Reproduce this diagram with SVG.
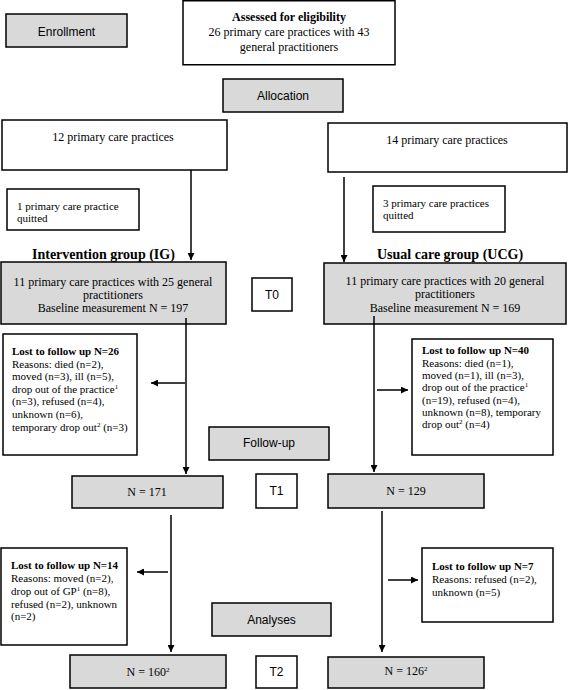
<svg xmlns="http://www.w3.org/2000/svg" width="568" height="690" viewBox="0 0 568 690">
<style>
rect{stroke:#000;stroke-width:1.5}
.w{fill:#fff}
.g{fill:#d9d9d9}
.s{font-family:"Liberation Sans",Arial,sans-serif;font-size:12px;fill:#000}
.t{font-family:"Liberation Serif","Times New Roman",serif;font-size:12px;fill:#000}
.ts{font-family:"Liberation Serif","Times New Roman",serif;font-size:11px;fill:#000}
.b{font-weight:bold}
.h{font-family:"Liberation Serif","Times New Roman",serif;font-size:14px;font-weight:bold;fill:#000}
.c{text-anchor:middle}
.sup{font-size:7px}
#connectors line{stroke:#000;stroke-width:1.5}
</style>
<defs>
<marker id="ah" viewBox="0 0 10 10" refX="10" refY="5" markerWidth="7" markerHeight="7" markerUnits="userSpaceOnUse" orient="auto"><path d="M0,0 L10,5 L0,10 z" fill="#000"/></marker>
</defs>
<rect width="568" height="690" fill="#fff" style="stroke:none"/>
<g id="enrollment"><rect class="g" x="6" y="14" width="121" height="33"/><text class="s c" x="66.5" y="36">Enrollment</text></g>
<g id="assessed"><rect class="w" x="183" y="0.75" width="212" height="64"/>
<text class="t c b" x="289" y="21">Assessed for eligibility</text>
<text class="t c" x="289" y="36">26 primary care practices with 43</text>
<text class="t c" x="289" y="51">general practitioners</text></g>
<g id="allocation"><rect class="g" x="223" y="79" width="120" height="33"/><text class="s c" x="283" y="100">Allocation</text></g>
<g id="ig-practices"><rect class="w" x="2" y="120" width="225" height="50"/><text class="t c" x="113" y="141">12 primary care practices</text></g>
<g id="ucg-practices"><rect class="w" x="328" y="123" width="239" height="49"/><text class="t c" x="447" y="144">14 primary care practices</text></g>
<g id="ig-quit"><rect class="w" x="7" y="189" width="132" height="41"/><text class="ts" x="17" y="210">1 primary care practice</text><text class="ts" x="17" y="222">quitted</text></g>
<g id="ucg-quit"><rect class="w" x="373" y="186" width="132" height="46"/><text class="ts" x="383" y="207">3 primary care practices</text><text class="ts" x="383" y="219">quitted</text></g>
<g id="ig-label"><text class="h" x="32" y="259">Intervention group (IG)</text></g>
<g id="ucg-label"><text class="h" x="377" y="259">Usual care group (UCG)</text></g>
<g id="ig-baseline"><rect class="g" x="1" y="262" width="225" height="62"/>
<text class="t c" x="113" y="286">11 primary care practices with 25 general</text>
<text class="t c" x="113" y="299">practitioners</text>
<text class="t c" x="113" y="312">Baseline measurement N = 197</text></g>
<g id="t0"><rect class="w" x="252" y="278" width="40" height="33"/><text class="s c" x="272" y="299">T0</text></g>
<g id="ucg-baseline"><rect class="g" x="324" y="263" width="242" height="61"/>
<text class="t c" x="445" y="285">11 primary care practices with 20 general</text>
<text class="t c" x="445" y="298">practitioners</text>
<text class="t c" x="445" y="312">Baseline measurement N = 169</text></g>
<g id="ig-lost1"><rect class="w" x="3" y="334" width="134" height="121"/>
<text class="ts b" x="12" y="355">Lost to follow up N=26</text>
<text class="ts" x="12" y="367.5">Reasons: died (n=2),</text>
<text class="ts" x="12" y="380">moved (n=3), ill (n=5),</text>
<text class="ts" x="12" y="392.5">drop out of the practice<tspan class="sup" dy="-4">1</tspan></text>
<text class="ts" x="12" y="405">(n=3), refused (n=4),</text>
<text class="ts" x="12" y="418">unknown (n=6),</text>
<text class="ts" x="12" y="430.5">temporary drop out<tspan class="sup" dy="-4">2</tspan><tspan dy="4"> (n=3)</tspan></text></g>
<g id="ucg-lost1"><rect class="w" x="412" y="339" width="141" height="116"/>
<text class="ts b" x="422" y="354">Lost to follow up N=40</text>
<text class="ts" x="422" y="366.5">Reasons: died (n=1),</text>
<text class="ts" x="422" y="379">moved (n=1), ill (n=3),</text>
<text class="ts" x="422" y="391">drop out of the practice<tspan class="sup" dy="-4">1</tspan></text>
<text class="ts" x="422" y="403.5">(n=19), refused (n=4),</text>
<text class="ts" x="422" y="416">unknown (n=8), temporary</text>
<text class="ts" x="422" y="428">drop out<tspan class="sup" dy="-4">2</tspan><tspan dy="4"> (n=4)</tspan></text></g>
<g id="followup"><rect class="g" x="209" y="427" width="120" height="33"/><text class="s c" x="269" y="447">Follow-up</text></g>
<g id="ig-t1"><rect class="g" x="72" y="476" width="151" height="32"/><text class="t c" x="147" y="496">N = 171</text></g>
<g id="t1"><rect class="w" x="256" y="474" width="41" height="34"/><text class="s c" x="276.5" y="495">T1</text></g>
<g id="ucg-t1"><rect class="g" x="328" y="474" width="156" height="34"/><text class="t c" x="406" y="495">N = 129</text></g>
<g id="ig-lost2"><rect class="w" x="1" y="548" width="126" height="97"/>
<text class="ts b" x="11" y="569">Lost to follow up N=14</text>
<text class="ts" x="11" y="582">Reasons:  moved (n=2),</text>
<text class="ts" x="11" y="595">drop out of GP<tspan class="sup" dy="-4">1</tspan><tspan dy="4"> (n=8),</tspan></text>
<text class="ts" x="11" y="607.5">refused (n=2), unknown</text>
<text class="ts" x="11" y="620">(n=2)</text></g>
<g id="ucg-lost2"><rect class="w" x="422" y="548" width="131" height="74"/>
<text class="ts b" x="432" y="570">Lost to follow up N=7</text>
<text class="ts" x="432" y="583">Reasons: refused (n=2),</text>
<text class="ts" x="432" y="596">unknown (n=5)</text></g>
<g id="analyses"><rect class="g" x="212" y="603" width="119" height="33"/><text class="s c" x="271.5" y="624">Analyses</text></g>
<g id="ig-t2"><rect class="g" x="70" y="655" width="156" height="33"/><text class="t c" x="148" y="676">N = 160<tspan class="sup" dy="-4">2</tspan></text></g>
<g id="t2"><rect class="w" x="256" y="656" width="41" height="32"/><text class="s c" x="276.5" y="676">T2</text></g>
<g id="ucg-t2"><rect class="g" x="328" y="657" width="156" height="31"/><text class="t c" x="406" y="675">N = 126<tspan class="sup" dy="-4">2</tspan></text></g>
<g id="connectors">
<line x1="191" y1="170" x2="191" y2="260" marker-end="url(#ah)"/>
<line x1="344" y1="177" x2="344" y2="262" marker-end="url(#ah)"/>
<line x1="186" y1="318" x2="186" y2="474" marker-end="url(#ah)"/>
<line x1="185" y1="383" x2="151" y2="383" marker-end="url(#ah)"/>
<line x1="374" y1="316" x2="374" y2="472" marker-end="url(#ah)"/>
<line x1="377" y1="390" x2="408" y2="390" marker-end="url(#ah)"/>
<line x1="171" y1="515" x2="171" y2="652" marker-end="url(#ah)"/>
<line x1="168" y1="572" x2="137" y2="572" marker-end="url(#ah)"/>
<line x1="382" y1="511" x2="382" y2="652" marker-end="url(#ah)"/>
<line x1="388" y1="580" x2="418" y2="580" marker-end="url(#ah)"/>
</g>
</svg>
